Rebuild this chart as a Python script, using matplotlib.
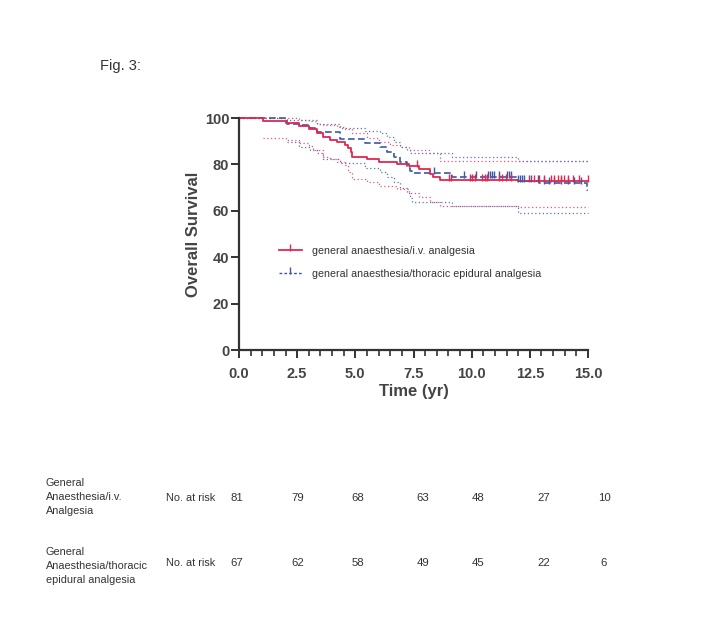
import numpy as np
import matplotlib
matplotlib.use('Agg')
import matplotlib.pyplot as plt
from matplotlib.lines import Line2D
from matplotlib.path import Path
from matplotlib.ticker import MultipleLocator, FormatStrFormatter

plt.rcParams['font.family'] = ['Liberation Sans', 'DejaVu Sans']

# ---------------- data ----------------
iv_label = "general anaesthesia/i.v. analgesia"
ep_label = "general anaesthesia/thoracic epidural analgesia"

# Kaplan-Meier: general anaesthesia / i.v. analgesia
iv_times = [0, 1.05, 2.0, 2.56, 3.0, 3.35, 3.62, 3.92, 4.2, 4.57, 4.7, 4.8, 4.86, 5.5, 6.0, 6.8, 7.3, 7.73, 8.2, 8.35, 8.63, 12.0, 15.0]
iv_surv = [100, 98.7, 97.7, 96.5, 95.1, 93.7, 91.7, 90.5, 89.6, 88.5, 87.0, 85.5, 83.3, 82.2, 81.0, 80.2, 79.3, 78.1, 75.9, 74.7, 73.3, 73.0, 73.0]
iv_upper_t = [0, 2.0, 2.56, 3.0, 3.35, 3.62, 4.2, 4.57, 4.86, 5.5, 6.0, 6.5, 6.94, 7.3, 8.16, 8.63, 15.0]
iv_upper = [100, 99.8, 99.3, 98.5, 97.6, 96.8, 96.0, 95.2, 93.5, 91.5, 89.5, 88.4, 87.6, 86.2, 84.7, 81.5, 81.5]
iv_lower_t = [1.05, 2.0, 2.56, 3.0, 3.2, 3.62, 3.92, 4.2, 4.57, 4.7, 4.86, 5.5, 6.0, 6.8, 7.3, 7.73, 8.2, 8.63, 12.0, 15.0]
iv_lower = [91.5, 90.5, 89.4, 87.9, 86.2, 83.3, 82.2, 81.2, 79.7, 76.9, 73.7, 72.6, 70.7, 69.2, 67.5, 66.1, 63.9, 62.1, 61.8, 61.8]
iv_censor = [7.66, 9.02, 9.12, 9.93, 10.03, 10.13, 10.46, 10.56, 10.68, 11.18, 11.32, 11.47, 11.68,
             12.47, 12.69, 12.9, 13.12, 13.4, 13.55, 13.69, 13.84, 13.95, 14.12, 14.34, 14.63, 14.99]

# Kaplan-Meier: general anaesthesia / thoracic epidural analgesia
ep_times = [0, 2.05, 2.56, 3.06, 3.35, 4.35, 5.43, 6.08, 6.37, 6.65, 6.94, 7.23, 7.37, 7.44, 9.17, 12.0, 12.9, 14.95, 15.0]
ep_surv = [100, 97.6, 97.0, 95.5, 93.8, 90.8, 89.1, 87.6, 85.5, 83.3, 81.2, 78.3, 77.3, 76.1, 74.4, 72.8, 72.0, 69.0, 69.0]
ep_upper_t = [0, 2.05, 3.06, 3.35, 4.35, 5.43, 6.08, 6.37, 6.65, 6.94, 7.23, 7.37, 9.17, 12.0, 15.0]
ep_upper = [100, 99.3, 99.0, 97.3, 95.5, 94.4, 93.4, 91.9, 89.8, 87.6, 86.2, 84.7, 83.3, 81.5, 81.5]
ep_lower_t = [2.05, 2.56, 3.06, 3.35, 3.62, 4.35, 5.43, 6.08, 6.37, 6.65, 6.94, 7.23, 7.37, 7.44, 9.17, 12.0, 15.0]
ep_lower = [89.5, 87.4, 86.2, 84.8, 82.2, 80.5, 78.3, 76.9, 74.7, 72.5, 69.7, 67.5, 65.4, 63.9, 62.1, 59.0, 59.0]
ep_censor = [8.38, 9.67, 10.17, 10.7, 10.79, 10.88, 10.96, 11.18, 11.51, 11.6, 11.68, 12.0, 12.08, 12.17,
             12.25, 12.54, 12.83, 13.12, 13.33, 13.55, 13.84, 14.12, 14.41, 14.7]

# number at risk table
risk_row_labels = ["General\nAnaesthesia/i.v.\nAnalgesia",
                   "General\nAnaesthesia/thoracic\nepidural analgesia"]
risk_iv = [81, 79, 68, 63, 48, 27, 10]
risk_ep = [67, 62, 58, 49, 45, 22, 6]

# ---------------- style / layout ----------------
RED = '#e2264f'
BLUE = '#3d58a5'
RED_CI = '#e8557c'
BLUE_CI = '#5a73b8'
AX_COL = '#333333'
LBL_COL = '#444444'

W, H = 715, 640
fig = plt.figure(figsize=(W / 100, H / 100), dpi=100)
fig.patch.set_facecolor('white')
ax = fig.add_axes([239 / W, 1 - 350 / H, 349 / W, 232 / H])

tick_marker = Path([(0, -0.15), (0, 1.0)], [Path.MOVETO, Path.LINETO])


def step_value(times, vals, t):
    idx = np.searchsorted(np.asarray(times), np.asarray(t), side='right') - 1
    return np.asarray(vals)[idx]


# confidence bands (dotted)
ax.step(iv_upper_t, iv_upper, where='post', color=RED_CI, lw=0.9, ls=(0, (1, 2)), clip_on=False)
ax.step(iv_lower_t, iv_lower, where='post', color=RED_CI, lw=0.9, ls=(0, (1, 2)), clip_on=False)
ax.step(ep_upper_t, ep_upper, where='post', color=BLUE_CI, lw=0.9, ls=(0, (1, 2)), clip_on=False)
ax.step(ep_lower_t, ep_lower, where='post', color=BLUE_CI, lw=0.9, ls=(0, (1, 2)), clip_on=False)

# survival curves
ax.step(ep_times, ep_surv, where='post', color=BLUE, lw=1.2, ls=(0, (4, 2)), clip_on=False)
ax.step(iv_times, iv_surv, where='post', color=RED, lw=1.3, clip_on=False)

# censor marks
ax.plot(ep_censor, step_value(ep_times, ep_surv, ep_censor), ls='none', marker=tick_marker,
        markersize=9, mew=1.0, color=BLUE, clip_on=False)
ax.plot(iv_censor, step_value(iv_times, iv_surv, iv_censor), ls='none', marker=tick_marker,
        markersize=9, mew=1.0, color=RED, clip_on=False)

# axes
ax.set_xlim(0, 15)
ax.set_ylim(0, 100)
for s in ['top', 'right']:
    ax.spines[s].set_visible(False)
for s in ['left', 'bottom']:
    ax.spines[s].set_linewidth(1.6)
    ax.spines[s].set_color(AX_COL)

ax.xaxis.set_major_locator(MultipleLocator(2.5))
ax.xaxis.set_minor_locator(MultipleLocator(0.5))
ax.xaxis.set_major_formatter(FormatStrFormatter('%.1f'))
ax.yaxis.set_major_locator(MultipleLocator(20))
ax.tick_params(axis='both', which='major', direction='out', length=6, width=1.4, color=AX_COL,
               labelsize=10.5, labelcolor=LBL_COL)
ax.tick_params(axis='x', which='minor', direction='out', length=4, width=1.2, color=AX_COL)
ax.tick_params(axis='x', which='major', pad=6)
ax.tick_params(axis='y', which='major', pad=1)
for lab in ax.get_xticklabels() + ax.get_yticklabels():
    lab.set_fontweight('bold')

ax.set_ylabel('Overall Survival', fontsize=12, fontweight='bold', color=LBL_COL)
ax.set_xlabel('Time (yr)', fontsize=12, fontweight='bold', color=LBL_COL)
ax.yaxis.set_label_coords(-0.108, 0.5)
ax.xaxis.set_label_coords(0.5, -0.148)

# legend
handles = [Line2D([0], [0], color=RED, lw=1.3, marker=tick_marker, markersize=9, mew=1.0),
           Line2D([0], [0], color=BLUE, lw=1.0, ls=(0, (2, 1.5)), marker=tick_marker, markersize=9, mew=1.0)]
ax.legend(handles, [iv_label, ep_label], loc='upper left', bbox_to_anchor=(0.115, 0.45),
          frameon=False, fontsize=7.7, handlelength=2.1, handletextpad=1.0, labelspacing=1.25,
          numpoints=1, borderpad=0, borderaxespad=0, labelcolor='#333333')

# figure label
fig.text(100 / W, 1 - 66 / H, 'Fig. 3:', fontsize=10.5, color='#333333', va='center', ha='left')

# number-at-risk table
TXT = '#333333'
col_x = [237, 298, 358, 423, 478, 544, 604]
row_y = [498, 563]
label_y = [497, 566]
for r, (lab, vals) in enumerate(zip(risk_row_labels, [risk_iv, risk_ep])):
    fig.text(46 / W, 1 - label_y[r] / H, lab, fontsize=7.8, color=TXT, va='center', ha='left',
             linespacing=1.45)
    fig.text(166 / W, 1 - row_y[r] / H, 'No. at risk', fontsize=7.8, color=TXT, va='center', ha='left')
    for x, v in zip(col_x, vals):
        fig.text(x / W, 1 - row_y[r] / H, str(v), fontsize=8.2, color=TXT, va='center', ha='center')

fig.savefig('out.png', dpi=100, facecolor='white')
